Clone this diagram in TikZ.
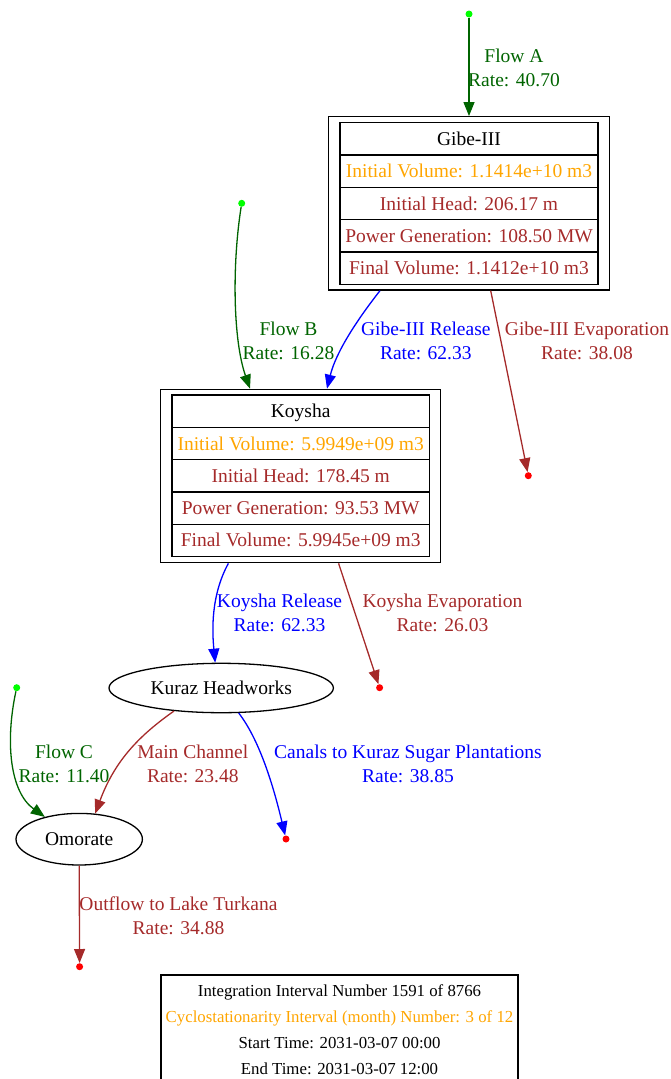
\documentclass[tikz,border=0pt]{standalone}
\usepackage{fontspec}
\setmainfont{Liberation Serif}
\usetikzlibrary{arrows.meta,shapes.geometric}

\definecolor{flowgreen}{HTML}{006400}
\definecolor{srcgreen}{HTML}{00FF00}
\definecolor{lossbrown}{HTML}{A52A2A}
\definecolor{volorange}{HTML}{FFA500}
\definecolor{relblue}{HTML}{0000FF}
\definecolor{sinkred}{HTML}{FF0000}

\newcommand{\mainfont}{\fontsize{19.5}{24}\selectfont}
\newcommand{\infofont}{\fontsize{16.8}{26}\selectfont}

\tikzset{
  flowedge/.style={line width=1.3pt, -{Triangle[length=14pt,width=11pt]}},
  lbl/.style={align=center, font=\mainfont, inner sep=0pt},
  srcdot/.style={circle, fill=srcgreen, inner sep=0pt, minimum size=7pt},
  sinkdot/.style={circle, fill=sinkred, inner sep=0pt, minimum size=7pt},
  outerbox/.style={draw, line width=1.3pt, minimum width=281.4pt, minimum height=173.3pt, inner sep=0pt},
  rowbox/.style={draw, line width=1.3pt, minimum width=258pt, minimum height=32.33pt,
                 inner sep=0pt, font=\mainfont, text height=13pt, text depth=0pt},
  place/.style={ellipse, draw, line width=1.3pt, inner sep=0pt, font=\mainfont,
                text height=13pt, text depth=0pt},
  infobox/.style={draw, line width=1.3pt, align=center, font=\infofont,
                  minimum width=357pt, minimum height=109.7pt, inner sep=0pt},
}

\begin{document}
\begin{tikzpicture}[x=1pt,y=-1pt]
\useasboundingbox (0,0) rectangle (670,1079);

% ---- reservoir Gibe-III
\node[outerbox] (gibe) at (469,203.35) {};
\node[rowbox] (gibe1) at (469,138.86) {Gibe-III};
\node[rowbox, text=volorange] (gibe2) at (469,171.19) {Initial Volume: 1.1414e+10 m3};
\node[rowbox, text=lossbrown] (gibe3) at (469,203.52) {Initial Head: 206.17 m};
\node[rowbox, text=lossbrown] (gibe4) at (469,235.85) {Power Generation: 108.50 MW};
\node[rowbox, text=lossbrown] (gibe5) at (469,268.18) {Final Volume: 1.1412e+10 m3};

% ---- reservoir Koysha
\node[outerbox, minimum width=280pt, minimum height=173.4pt] (koysha) at (300.7,476) {};
\node[rowbox, minimum width=257.3pt] (koy1) at (300.7,411.17) {Koysha};
\node[rowbox, minimum width=257.3pt, text=volorange] (koy2) at (300.7,443.5) {Initial Volume: 5.9949e+09 m3};
\node[rowbox, minimum width=257.3pt, text=lossbrown] (koy3) at (300.7,475.83) {Initial Head: 178.45 m};
\node[rowbox, minimum width=257.3pt, text=lossbrown] (koy4) at (300.7,508.16) {Power Generation: 93.53 MW};
\node[rowbox, minimum width=257.3pt, text=lossbrown] (koy5) at (300.7,540.49) {Final Volume: 5.9945e+09 m3};

% ---- junctions
\node[place, minimum width=224.4pt, minimum height=49.4pt] (kuraz) at (221.2,688) {Kuraz Headworks};
\node[place, minimum width=126.4pt, minimum height=51.6pt] (omorate) at (79.2,839.2) {Omorate};

% ---- inflow sources and outflow sinks
\node[srcdot] (srcA) at (469,14) {};
\node[srcdot] (srcB) at (241.7,203.3) {};
\node[srcdot] (srcC) at (16.7,687.7) {};
\node[sinkdot] (sinkG) at (528.3,475.7) {};
\node[sinkdot] (sinkK) at (379.6,687.7) {};
\node[sinkdot] (sinkC) at (286,839) {};
\node[sinkdot] (sinkO) at (79.6,966.7) {};

% ---- connectors
\draw[flowedge, flowgreen] (srcA) -- (gibe.north);
\draw[flowedge, relblue] ([xshift=-89pt]gibe.south) .. controls (357,320) and (336,352) .. ([xshift=26.3pt]koysha.north);
\draw[flowedge, lossbrown] ([xshift=21.7pt]gibe.south) -- (sinkG);
\draw[flowedge, flowgreen] (srcB) .. controls (232,265) and (233,340) .. ([xshift=-50.7pt]koysha.north);
\draw[flowedge, relblue] ([xshift=-72.3pt]koysha.south) .. controls (211,595) and (212,630) .. ([xshift=-6pt]kuraz.north);
\draw[flowedge, lossbrown] ([xshift=37.9pt]koysha.south) -- (sinkK);
\draw[flowedge, lossbrown] (kuraz.206) .. controls (140,735) and (115,760) .. (omorate.58.6);
\draw[flowedge, relblue] (kuraz.-55) .. controls (258,738) and (272,780) .. (sinkC);
\draw[flowedge, flowgreen] (srcC) .. controls (5,742) and (10,792) .. (omorate.147);
\draw[flowedge, lossbrown] (omorate.south) -- (sinkO);

% ---- connector labels
\node[lbl, text=flowgreen] (lA) at (514,67.7) {Flow A\\Rate: 40.70};
\node[lbl, text=relblue] (lGR) at (425.8,340.5) {Gibe-III Release\\Rate: 62.33};
\node[lbl, text=lossbrown] (lGE) at (587,340.5) {Gibe-III Evaporation\\Rate: 38.08};
\node[lbl, text=flowgreen] (lB) at (288.5,340.5) {Flow B\\Rate: 16.28};
\node[lbl, text=relblue] (lKR) at (279.5,613) {Koysha Release\\Rate: 62.33};
\node[lbl, text=lossbrown] (lKE) at (442.5,613) {Koysha Evaporation\\Rate: 26.03};
\node[lbl, text=flowgreen] (lC) at (64,764.3) {Flow C\\Rate: 11.40};
\node[lbl, text=lossbrown] (lMC) at (192.8,764.3) {Main Channel\\Rate: 23.48};
\node[lbl, text=relblue] (lCan) at (408,764.3) {Canals to Kuraz Sugar Plantations\\Rate: 38.85};
\node[lbl, text=lossbrown] (lO) at (178.5,915.8) {Outflow to Lake Turkana\\Rate: 34.88};

% ---- simulation status box
\node[infobox] (info) at (339.5,1029.85) {Integration Interval Number 1591 of 8766\\
  \textcolor{volorange}{Cyclostationarity Interval (month) Number: 3 of 12}\\
  Start Time: 2031-03-07 00:00\\
  End Time: 2031-03-07 12:00};
\end{tikzpicture}
\end{document}
